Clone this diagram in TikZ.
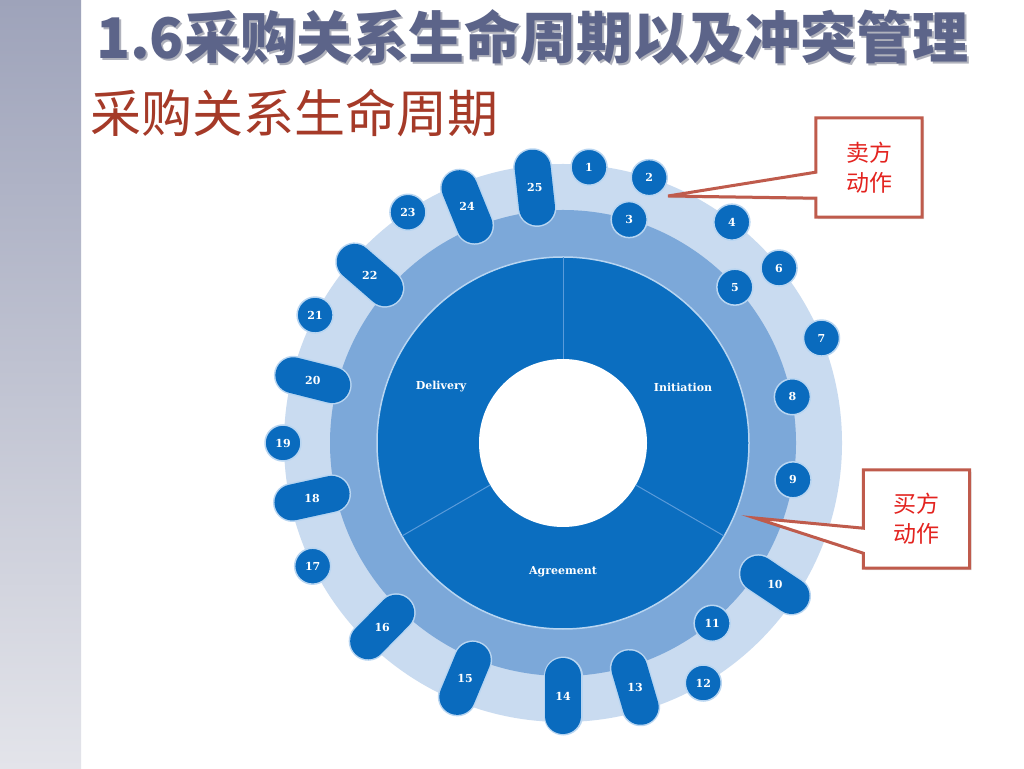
\documentclass[tikz,border=0pt]{standalone}
\usepackage{fontspec}
\setmainfont{DejaVu Serif}
\newfontfamily\cjk{Noto Sans CJK SC}
\usetikzlibrary{positioning, shadows}

\definecolor{stripTop}{RGB}{158,163,186}
\definecolor{stripBot}{RGB}{227,228,234}
\definecolor{titleblue}{RGB}{92,100,137}
\definecolor{titleshade}{RGB}{176,178,188}
\definecolor{subred}{RGB}{165,58,40}
\definecolor{lightring}{RGB}{201,219,240}
\definecolor{midring}{RGB}{124,168,217}
\definecolor{darkring}{RGB}{11,110,192}
\definecolor{bubble}{RGB}{10,107,190}
\definecolor{rim}{RGB}{184,213,241}
\definecolor{divider}{RGB}{90,155,218}
\definecolor{callred}{RGB}{191,91,76}
\definecolor{calltextred}{RGB}{227,35,31}

\pgfdeclarelayer{front}
\pgfsetlayers{main,front}

\tikzset{
  dot/.style={circle, minimum size=36, inner sep=0, fill=bubble, draw=rim, line width=1.5,
    text=white, font=\fontsize{11}{11}\selectfont\bfseries},
  pillrim/.style={line width=39, line cap=round, draw=rim},
  pillbody/.style={line width=36, line cap=round, draw=bubble},
  numtext/.style={inner sep=0, text=white, font=\fontsize{11}{11}\selectfont\bfseries},
  phase/.style={inner sep=0, text=white, font=\fontsize{11}{11}\selectfont\bfseries},
  calltext/.style={minimum width=106, minimum height=99, inner sep=0, align=center,
    text=calltextred, font=\cjk\fontsize{23}{30}\selectfont},
  callline/.style={draw=callred, line width=3, fill=white, line join=miter,
    drop shadow={opacity=0.25, shadow xshift=2, shadow yshift=-2}},
}

\begin{document}
\begin{tikzpicture}[x=1pt, y=1pt]
  \useasboundingbox (0,0) rectangle (1024,768);
  \fill[white] (0,0) rectangle (1024,768);
  \shade[top color=stripTop, bottom color=stripBot] (0,0) rectangle (81,768);

  % headings
  \node[anchor=base west, inner sep=0, text=titleshade, font=\cjk\bfseries\fontsize{56}{56}\selectfont]
    (titleshadow) at (98,707) {1.6采购关系生命周期以及冲突管理};
  \node[anchor=base west, inner sep=0, text=titleblue, font=\cjk\bfseries\fontsize{56}{56}\selectfont]
    (title) at (96,709) {1.6采购关系生命周期以及冲突管理};
  \node[anchor=base west, inner sep=0, text=subred, font=\cjk\fontsize{51}{51}\selectfont]
    (subtitle) at (90,635) {采购关系生命周期};

  % rings
  \begin{scope}[shift={(563,325)}]
    \fill[lightring] (0,0) circle (279);
    \fill[midring] (0,0) circle (233);
    \filldraw[fill=darkring, draw=rim, line width=1.5] (0,0) circle (186);
    \fill[white] (0,0) circle (84);
    \foreach \a in {90,-30,210}
      \draw[divider, line width=1] (\a:84) -- (\a:186);

    \node[phase] (initiation) at (120,56) {Initiation};
    \node[phase] (delivery) at (-122,56) {Delivery};
    \node[phase] (agreement) at (0,-129) {Agreement};

    % round steps
    \foreach \n/\a/\r in {1/84.6/277, 2/72/279, 3/73.5/233, 4/52.6/278, 5/42.2/232,
        6/39/278, 7/22.1/279, 8/11.4/234, 9/-9.1/233, 11/-50.4/234, 12/-59.7/278,
        17/-153.8/279, 19/180/280, 21/152.7/279, 23/123.9/278}
      \node[dot] (n\n) at (\a:\r) {\n};

    % long steps
    \foreach \n/\a/\r in {10/-33.8/255, 13/-73.6/255, 14/-90/253, 15/-112.6/255,
        16/-134.5/258, 18/-167.6/257, 20/165.9/258, 22/139/256, 24/112.1/255, 25/96.3/257}
    {
      \draw[pillrim] (\a:{\r-20}) -- (\a:{\r+20});
      \draw[pillbody] (\a:{\r-20}) -- (\a:{\r+20});
      \node[numtext] (n\n) at (\a:\r) {\n};
    }
  \end{scope}

  % callouts
  \coordinate (sellertip) at (668,572);
  \coordinate (buyertip) at (755,250);
  \begin{pgfonlayer}{front}
    \node[calltext] (seller) at (869,600.5) {卖方\\动作};
    \node[calltext, minimum height=98] (buyer) at (916.5,249) {买方\\动作};
  \end{pgfonlayer}
  \path[callline] (seller.north west) -- (seller.north east) -- (seller.south east)
    -- (seller.south west) -- ([yshift=19]seller.south west) -- (sellertip)
    -- ([yshift=45]seller.south west) -- cycle;
  \path[callline] (buyer.north west) -- (buyer.north east) -- (buyer.south east)
    -- (buyer.south west) -- ([yshift=15]buyer.south west) -- (buyertip)
    -- ([yshift=40]buyer.south west) -- cycle;
\end{tikzpicture}
\end{document}
